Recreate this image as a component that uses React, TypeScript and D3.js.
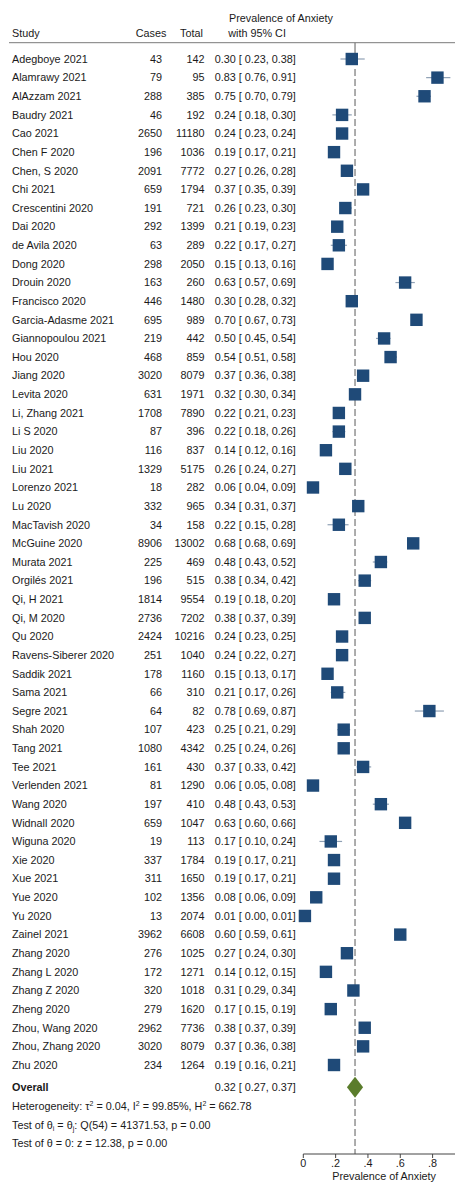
import React from "react";
import * as d3 from "d3";

const studies = ["Adegboye 2021","Alamrawy 2021","AlAzzam 2021","Baudry 2021","Cao 2021","Chen F 2020","Chen, S 2020","Chi 2021","Crescentini 2020","Dai 2020","de Avila 2020","Dong 2020","Drouin 2020","Francisco 2020","Garcia-Adasme 2021","Giannopoulou 2021","Hou  2020","Jiang 2020","Levita 2020","Li, Zhang 2021","Li S 2020","Liu 2020","Liu 2021","Lorenzo 2021","Lu 2020","MacTavish 2020","McGuine 2020","Murata 2021","Orgilés 2021","Qi, H 2021","Qi, M 2020","Qu 2020","Ravens-Siberer 2020","Saddik 2021","Sama 2021","Segre 2021","Shah 2020","Tang 2021","Tee 2021","Verlenden 2021","Wang 2020","Widnall 2020","Wiguna 2020","Xie 2020","Xue 2021","Yue 2020","Yu 2020","Zainel 2021","Zhang 2020","Zhang L 2020","Zhang Z 2020","Zheng 2020","Zhou, Wang 2020","Zhou, Zhang 2020","Zhu 2020"];
const cases = [43,79,288,46,2650,196,2091,659,191,292,63,298,163,446,695,219,468,3020,631,1708,87,116,1329,18,332,34,8906,225,196,1814,2736,2424,251,178,66,64,107,1080,161,81,197,659,19,337,311,102,13,3962,276,172,320,279,2962,3020,234];
const totals = [142,95,385,192,11180,1036,7772,1794,721,1399,289,2050,260,1480,989,442,859,8079,1971,7890,396,837,5175,282,965,158,13002,469,515,9554,7202,10216,1040,1160,310,82,423,4342,430,1290,410,1047,113,1784,1650,1356,2074,6608,1025,1271,1018,1620,7736,8079,1264];
const est = [0.30,0.83,0.75,0.24,0.24,0.19,0.27,0.37,0.26,0.21,0.22,0.15,0.63,0.30,0.70,0.50,0.54,0.37,0.32,0.22,0.22,0.14,0.26,0.06,0.34,0.22,0.68,0.48,0.38,0.19,0.38,0.24,0.24,0.15,0.21,0.78,0.25,0.25,0.37,0.06,0.48,0.63,0.17,0.19,0.19,0.08,0.01,0.60,0.27,0.14,0.31,0.17,0.38,0.37,0.19];
const lo = [0.23,0.76,0.70,0.18,0.23,0.17,0.26,0.35,0.23,0.19,0.17,0.13,0.57,0.28,0.67,0.45,0.51,0.36,0.30,0.21,0.18,0.12,0.24,0.04,0.31,0.15,0.68,0.43,0.34,0.18,0.37,0.23,0.22,0.13,0.17,0.69,0.21,0.24,0.33,0.05,0.43,0.60,0.10,0.17,0.17,0.06,0.00,0.59,0.24,0.12,0.29,0.15,0.37,0.36,0.16];
const hi = [0.38,0.91,0.79,0.30,0.24,0.21,0.28,0.39,0.30,0.23,0.27,0.16,0.69,0.32,0.73,0.54,0.58,0.38,0.34,0.23,0.26,0.16,0.27,0.09,0.37,0.28,0.69,0.52,0.42,0.20,0.39,0.25,0.27,0.17,0.26,0.87,0.29,0.26,0.42,0.08,0.53,0.66,0.24,0.21,0.21,0.09,0.01,0.61,0.30,0.15,0.34,0.19,0.39,0.38,0.21];
const overall = { est: 0.32, lo: 0.27, hi: 0.37 };
const ticks = [0, 0.2, 0.4, 0.6, 0.8];
const tickLabels = ["0", ".2", ".4", ".6", ".8"];

const FONT = "'Liberation Sans', Arial, sans-serif";
const FS = 10.8;
const TXT = "#1a1a1a";
const BLUE = "#1f4a78";
const GREEN = "#5a7c2b";

export default function App() {
  const x = d3.scaleLinear().domain([0, 0.8]).range([303.3, 432.6]);
  const y = d3.scaleLinear().domain([0, studies.length - 1]).range([59, 1065]);
  const axisY = 1154;
  const overallY = 1087.3;
  const sq = 12.4;
  const f2 = d3.format(".2f");
  const ci = (e: number, l: number, h: number) => `${f2(e)} [ ${f2(l)}, ${f2(h)}]`;
  const xo = x(overall.est);
  const diamond = d3.line()([
    [x(overall.lo), overallY],
    [xo, overallY - 10.5],
    [x(overall.hi), overallY],
    [xo, overallY + 10.5],
  ]) + "Z";

  return (
    <svg width={455} height={1182} style={{ position: "absolute", left: 0, top: 0, background: "#fff" }} fontFamily={FONT} fontSize={FS} fill={TXT}>
      <rect x={0} y={0} width={455} height={1182} fill="#fff" />
      {/* header */}
      <text x={12} y={33} dy="0.35em">Study</text>
      <text x={135.7} y={33} dy="0.35em">Cases</text>
      <text x={180} y={33} dy="0.35em">Total</text>
      <text x={229} y={18} dy="0.35em">Prevalence of Anxiety</text>
      <text x={228.3} y={33} dy="0.35em">with 95% CI</text>
      <line x1={9} x2={455} y1={42.7} y2={42.7} stroke="#7a7a7a" strokeWidth={1} />

      {/* reference line */}
      <line x1={xo} x2={xo} y1={42.7} y2={62} stroke="#777" strokeWidth={1.2} />
      <line x1={xo} x2={xo} y1={69} y2={axisY} stroke="#777" strokeWidth={1.2} strokeDasharray="7,3" />

      {studies.map((s, i) => {
        const yy = y(i);
        return (
          <g key={i}>
            <text x={12} y={yy} dy="0.35em">{s}</text>
            <text x={162} y={yy} dy="0.35em" textAnchor="end">{cases[i]}</text>
            <text x={204.5} y={yy} dy="0.35em" textAnchor="end">{totals[i]}</text>
            <text x={214.7} y={yy} dy="0.35em">{ci(est[i], lo[i], hi[i])}</text>
            <line x1={x(lo[i])} x2={x(hi[i])} y1={yy} y2={yy} stroke="#8fa0b4" strokeWidth={1.2} />
            <rect x={x(est[i]) - sq / 2} y={yy - sq / 2} width={sq} height={sq} fill={BLUE} />
          </g>
        );
      })}

      {/* overall */}
      <text x={12} y={overallY} dy="0.35em" fontWeight="bold">Overall</text>
      <text x={214.7} y={overallY} dy="0.35em">{ci(overall.est, overall.lo, overall.hi)}</text>
      <path d={diamond} fill={GREEN} />

      <text x={12} y={1106.7} dy="0.35em">
        Heterogeneity: τ<tspan fontSize={7} dy="-4">2</tspan><tspan dy="4"> = 0.04, I</tspan><tspan fontSize={7} dy="-4">2</tspan><tspan dy="4"> = 99.85%, H</tspan><tspan fontSize={7} dy="-4">2</tspan><tspan dy="4"> = 662.78</tspan>
      </text>
      <text x={12} y={1125.3} dy="0.35em">
        Test of θ<tspan fontSize={7} dy="2">i</tspan><tspan dy="-2"> = θ</tspan><tspan fontSize={7} dy="2">j</tspan><tspan dy="-2">: Q(54) = 41371.53, p = 0.00</tspan>
      </text>
      <text x={12} y={1143.7} dy="0.35em">Test of θ = 0: z = 12.38, p = 0.00</text>

      {/* axis */}
      <line x1={x(0)} x2={455} y1={axisY} y2={axisY} stroke="#444" strokeWidth={1} />
      {ticks.map((t, i) => (
        <g key={t}>
          <line x1={x(t)} x2={x(t)} y1={axisY} y2={axisY + 4} stroke="#444" strokeWidth={1} />
          <text x={x(t)} y={axisY + 9.5} dy="0.35em" textAnchor="middle">{tickLabels[i]}</text>
        </g>
      ))}
      <text x={x(0.5)} y={1176} dy="0.35em" textAnchor="middle">Prevalence of Anxiety</text>
    </svg>
  );
}
